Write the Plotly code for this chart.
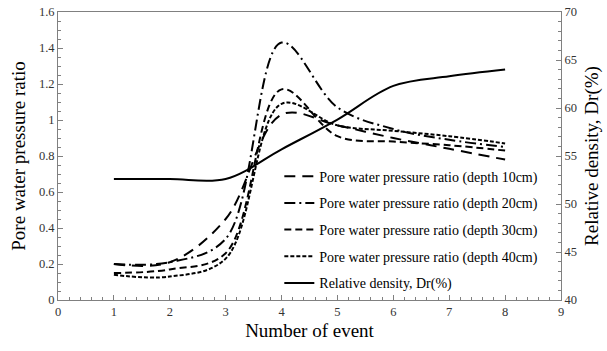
import plotly.graph_objects as go

events = [1, 2, 3, 4, 5, 6, 7, 8]
ratio_10cm = [0.20, 0.21, 0.45, 1.03, 0.97, 0.90, 0.84, 0.78]
ratio_20cm = [0.20, 0.21, 0.34, 1.43, 1.07, 0.95, 0.89, 0.85]
ratio_30cm = [0.15, 0.17, 0.26, 1.17, 0.91, 0.88, 0.86, 0.83]
ratio_40cm = [0.14, 0.13, 0.23, 1.09, 0.97, 0.94, 0.91, 0.87]
rel_density = [52.6, 52.6, 52.6, 55.7, 58.8, 62.3, 63.3, 64.0]

names = [
    "Pore water pressure ratio (depth 10cm)",
    "Pore water pressure ratio (depth 20cm)",
    "Pore water pressure ratio (depth 30cm)",
    "Pore water pressure ratio (depth 40cm)",
    "Relative density, Dr(%)",
]
dashes = ["11px,7px", "11px,4px,2px,4px", "7px,4px", "4px,2px", "solid"]

FONT = "Liberation Serif"
fig = go.Figure()
for name, vals, dash in zip(names[:4], [ratio_10cm, ratio_20cm, ratio_30cm, ratio_40cm], dashes[:4]):
    fig.add_trace(go.Scatter(
        x=events, y=vals, mode="lines", name=name, legendgroup=name,
        line=dict(shape="spline", smoothing=1.0, color="black", width=2, dash=dash),
    ))
fig.add_trace(go.Scatter(
    x=events, y=rel_density, mode="lines", name=names[4], legendgroup=names[4], yaxis="y2",
    line=dict(shape="spline", smoothing=1.0, color="black", width=2, dash="solid"),
))

axis_color = "#808080"
tickfont = dict(size=12.5, color="#333333", family=FONT)
fig.update_layout(
    width=607, height=351,
    margin=dict(l=58, r=46, t=12, b=51, autoexpand=False),
    paper_bgcolor="white", plot_bgcolor="white",
    font=dict(family=FONT, color="black"),
    showlegend=True,
    legend=dict(
        x=0.44, y=0.484, xanchor="left", yanchor="top",
        bgcolor="rgba(0,0,0,0)", font=dict(size=14, family=FONT, color="black"),
        tracegroupgap=5.5, itemwidth=30,
    ),
    xaxis=dict(
        range=[0, 9], dtick=1, tick0=0, showgrid=False, zeroline=False, automargin=False,
        showline=True, linecolor=axis_color, linewidth=1, mirror=True,
        ticks="inside", ticklen=5, tickcolor=axis_color,
        minor=dict(dtick=0.2, ticks="inside", ticklen=3, tickcolor=axis_color),
        tickfont=tickfont,
        title=dict(text="Number of event", font=dict(size=19, family=FONT), standoff=5),
    ),
    yaxis=dict(
        range=[0, 1.6], dtick=0.2, tick0=0, showgrid=False, zeroline=False, automargin=False,
        showline=True, linecolor=axis_color, linewidth=1,
        ticks="inside", ticklen=5, tickcolor=axis_color,
        minor=dict(dtick=0.05, ticks="inside", ticklen=3, tickcolor=axis_color),
        tickfont=tickfont,
        title=dict(text="Pore water pressure ratio", font=dict(size=19, family=FONT), standoff=8),
    ),
    yaxis2=dict(
        range=[40, 70], dtick=5, tick0=40, overlaying="y", side="right",
        showgrid=False, zeroline=False, automargin=False,
        showline=True, linecolor=axis_color, linewidth=1,
        ticks="inside", ticklen=5, tickcolor=axis_color,
        minor=dict(dtick=1, ticks="inside", ticklen=3, tickcolor=axis_color),
        tickfont=tickfont,
        title=dict(text="Relative density, Dr(%)", font=dict(size=19, family=FONT), standoff=8),
    ),
)

fig.write_html("out.html", config={"displayModeBar": False},
               post_script="document.body.style.margin='0px';")
